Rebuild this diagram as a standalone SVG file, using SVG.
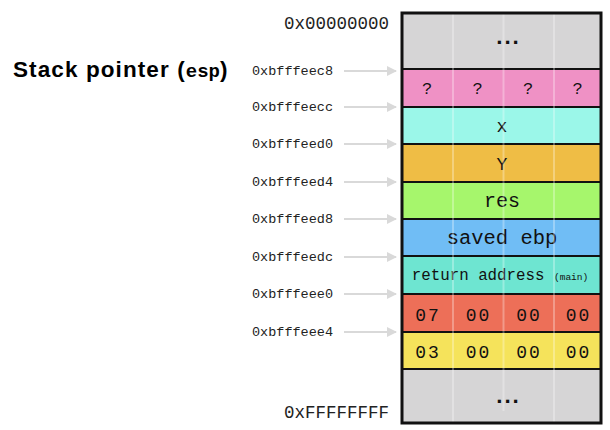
<svg xmlns="http://www.w3.org/2000/svg" width="610" height="430" viewBox="0 0 610 430">
<defs>
<marker id="ah" viewBox="0 0 10 10" refX="9" refY="5" markerWidth="5" markerHeight="5" orient="auto" markerUnits="strokeWidth">
<path d="M0,0 L10,5 L0,10 z" fill="#d9d9d9"/>
</marker>
<style>
.addr{font-family:"Liberation Mono",monospace;font-size:13.5px;fill:#222}
.big{font-family:"Liberation Mono",monospace;font-size:17.5px;fill:#222}
.cell{font-family:"Liberation Mono",monospace;fill:#111;text-anchor:middle}
.byte{font-family:"Liberation Mono",monospace;font-size:18px;fill:#111;text-anchor:middle;letter-spacing:2px}
.row{stroke:#111;stroke-width:2}
.div{stroke:#fff;stroke-opacity:0.3;stroke-width:2}
.arr{stroke:#d9d9d9;stroke-width:2;marker-end:url(#ah)}
.dots{font-family:"Liberation Mono",monospace;font-weight:bold;font-size:22px;fill:#111;text-anchor:middle;letter-spacing:-5px}
</style>
</defs>
<rect width="610" height="430" fill="#fff"/>
<text x="13" y="77" font-family="Liberation Sans,Arial,sans-serif" font-weight="bold" font-size="22.5" letter-spacing="1.1" fill="#000">Stack pointer (<tspan font-family="Liberation Mono,monospace" font-size="19" letter-spacing="0">esp</tspan>)</text>
<text class="big" x="389" y="29" text-anchor="end">0x00000000</text>
<text class="big" x="389" y="418" text-anchor="end">0xFFFFFFFF</text>
<g id="cells">
<g id="top"><rect x="402" y="13" width="199" height="56" fill="#d6d5d6"/><text class="dots" x="505" y="44">...</text></g>
<g id="unk"><rect class="row" x="402" y="69" width="199" height="38" fill="#ef91c5"/><text class="cell" font-size="17" x="427" y="94">?</text><text class="cell" font-size="17" x="477.5" y="94">?</text><text class="cell" font-size="17" x="528" y="94">?</text><text class="cell" font-size="17" x="577.5" y="94">?</text></g>
<g id="x"><rect class="row" x="402" y="107" width="199" height="37" fill="#9bf7e9"/><text class="cell" font-size="18" x="502" y="132">x</text></g>
<g id="y"><rect class="row" x="402" y="144" width="199" height="38" fill="#efbd45"/><text class="cell" font-size="18" x="502" y="170">Y</text></g>
<g id="res"><rect class="row" x="402" y="182" width="199" height="37" fill="#a6f66c"/><text class="cell" font-size="20" x="502" y="207">res</text></g>
<g id="ebp"><rect class="row" x="402" y="219" width="199" height="37" fill="#70bdf5"/><text class="cell" font-size="20.5" x="502" y="244">saved ebp</text></g>
<g id="ret"><rect class="row" x="402" y="256" width="199" height="38" fill="#6ee5d1"/><text class="cell" font-size="15.8" x="500" y="280">return address <tspan font-size="9.5">(main)</tspan></text></g>
<g id="b7"><rect class="row" x="402" y="294" width="199" height="38" fill="#ed6f58"/><text class="byte" x="428" y="321">07</text><text class="byte" x="478.5" y="321">00</text><text class="byte" x="529" y="321">00</text><text class="byte" x="578.5" y="321">00</text></g>
<g id="b3"><rect class="row" x="402" y="332" width="199" height="37" fill="#f5e35b"/><text class="byte" x="428" y="358">03</text><text class="byte" x="478.5" y="358">00</text><text class="byte" x="529" y="358">00</text><text class="byte" x="578.5" y="358">00</text></g>
<g id="bottom"><rect class="row" x="402" y="369" width="199" height="54" fill="#d6d5d6"/><text class="dots" x="505" y="403">...</text></g>
<line class="div" x1="453" y1="14" x2="453" y2="422"/>
<line class="div" x1="503.5" y1="14" x2="503.5" y2="411"/>
<line class="div" x1="554" y1="14" x2="554" y2="422"/>
<rect x="402" y="13" width="199" height="410" fill="none" stroke="#111" stroke-width="3"/>
</g>
<g id="connectors">
<line class="arr" x1="344" y1="71" x2="396" y2="71"/>
<line class="arr" x1="344" y1="107" x2="396" y2="107"/>
<line class="arr" x1="344" y1="144" x2="396" y2="144"/>
<line class="arr" x1="344" y1="182" x2="396" y2="182"/>
<line class="arr" x1="344" y1="219" x2="396" y2="219"/>
<line class="arr" x1="344" y1="257" x2="396" y2="257"/>
<line class="arr" x1="344" y1="294" x2="396" y2="294"/>
<line class="arr" x1="344" y1="332" x2="396" y2="332"/>
</g>
<g id="labels">
<text class="addr" x="252" y="75">0xbfffeec8</text>
<text class="addr" x="252" y="111">0xbfffeecc</text>
<text class="addr" x="252" y="148">0xbfffeed0</text>
<text class="addr" x="252" y="186">0xbfffeed4</text>
<text class="addr" x="252" y="223">0xbfffeed8</text>
<text class="addr" x="252" y="261">0xbfffeedc</text>
<text class="addr" x="252" y="298">0xbfffeee0</text>
<text class="addr" x="252" y="336">0xbfffeee4</text>
</g>
</svg>
